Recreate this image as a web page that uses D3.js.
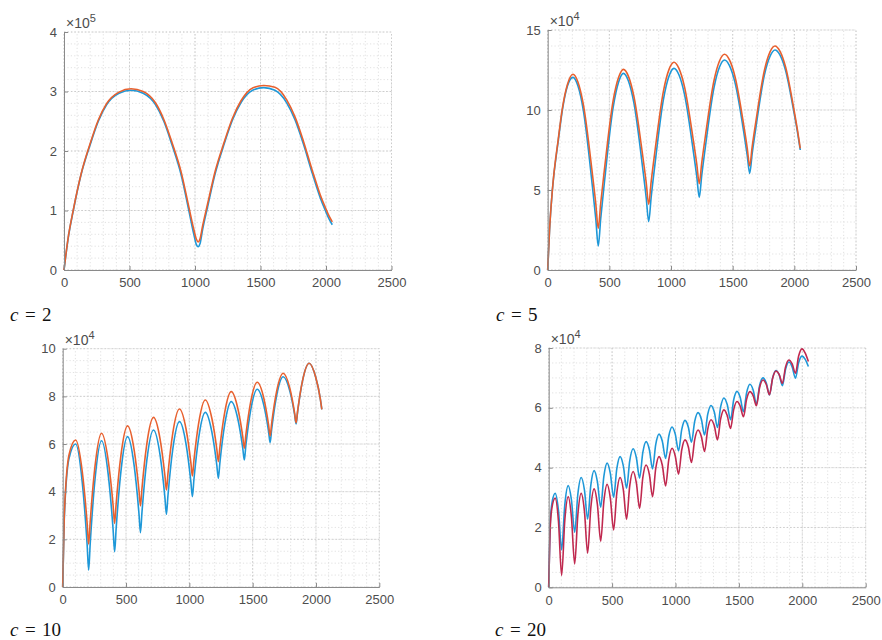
<!DOCTYPE html>
<html>
<head>
<meta charset="utf-8">
<script src="https://cdn.jsdelivr.net/npm/d3@7"></script>
<style>
  html, body { margin: 0; padding: 0; background: #ffffff; }
  svg { display: block; }
  .tick text { font-family: "Liberation Sans", Arial, sans-serif; font-size: 13px; fill: #4d4d4d; }
</style>
</head>
<body>
<svg id="chart" width="882" height="640"></svg>
<script>
// ---- sample positions and series values (y in units of the panel's exponent) ----
const xTicks = [0, 500, 1000, 1500, 2000, 2500];

// c = 2  (x 10^5)
const c2X = [0, 33, 71, 130, 199, 262, 326, 420, 512, 604, 698, 762, 825, 894, 953, 991, 1010, 1024, 1038, 1058, 1095, 1154, 1223, 1286, 1350, 1440, 1525, 1610, 1700, 1764, 1827, 1896, 1955, 1995, 2025, 2048];
const c2Blue = [0, 0.55, 1.0, 1.6, 2.1, 2.5, 2.78, 2.97, 3.02, 2.97, 2.78, 2.5, 2.1, 1.6, 1.0, 0.6, 0.43, 0.39, 0.44, 0.68, 1.05, 1.62, 2.12, 2.52, 2.81, 3.02, 3.065, 3.02, 2.81, 2.52, 2.12, 1.62, 1.22, 1.0, 0.85, 0.76];
const c2Orange = [0, 0.56, 1.01, 1.61, 2.12, 2.52, 2.8, 2.99, 3.045, 3.0, 2.81, 2.53, 2.14, 1.65, 1.06, 0.68, 0.52, 0.47, 0.52, 0.74, 1.1, 1.66, 2.15, 2.55, 2.84, 3.06, 3.10, 3.07, 2.86, 2.57, 2.17, 1.67, 1.27, 1.05, 0.9, 0.81];
const c2YTicks = [0, 1, 2, 3, 4];

// c = 5  (x 10^4)
const c5X = [0, 15, 38, 86, 119, 160, 205, 245, 290, 360, 390, 410, 430, 460, 530, 575, 614, 654, 699, 769, 799, 819, 839, 869, 939, 984, 1024, 1064, 1109, 1179, 1209, 1229, 1249, 1279, 1349, 1394, 1434, 1474, 1519, 1589, 1618, 1638, 1658, 1688, 1758, 1803, 1843, 1883, 1928, 1998, 2028, 2048];
const c5Blue = [0, 2.5, 5, 8.1, 10, 11.5, 12.04, 11.51, 9.93, 5.4, 3.19, 1.5, 3.23, 5.49, 10.13, 11.75, 12.29, 11.83, 10.44, 6.45, 4.50, 3.02, 4.55, 6.56, 10.68, 12.12, 12.6, 12.2, 10.99, 7.52, 5.83, 4.54, 5.91, 7.72, 11.41, 12.70, 13.125, 12.77, 11.71, 8.66, 7.17, 6.04, 7.27, 8.89, 12.21, 13.36, 13.75, 13.44, 12.5, 9.81, 8.5, 7.5];
const c5Orange = [0, 2.5, 5, 8.2, 10.1, 11.6, 12.23, 11.75, 10.30, 6.16, 4.14, 2.6, 4.19, 6.28, 10.55, 12.04, 12.54, 12.12, 10.85, 7.22, 5.45, 4.1, 5.52, 7.39, 11.20, 12.54, 12.98, 12.6, 11.46, 8.2, 6.61, 5.4, 6.69, 8.39, 11.86, 13.08, 13.48, 13.13, 12.08, 9.08, 7.62, 6.5, 7.7, 9.28, 12.5, 13.63, 14.0, 13.68, 12.72, 9.97, 8.62, 7.6];
const c5YTicks = [0, 5, 10, 15];

// c = 10  (x 10^4)
const c10X = [0, 12, 50, 102, 154, 193, 205, 217, 255, 307, 359, 398, 410, 422, 460, 512, 564, 602, 614, 626, 664, 717, 769, 807, 819, 831, 869, 922, 974, 1012, 1024, 1036, 1074, 1126, 1178, 1217, 1229, 1241, 1279, 1331, 1383, 1422, 1434, 1446, 1484, 1536, 1588, 1626, 1638, 1650, 1688, 1741, 1793, 1831, 1843, 1855, 1893, 1946, 1998, 2034, 2046];
const c10Blue = [0, 2.8, 5.4, 6.0, 4.41, 1.77, 0.71, 1.80, 4.51, 6.14, 4.74, 2.41, 1.48, 2.45, 4.86, 6.31, 5.10, 3.09, 2.28, 3.14, 5.30, 6.59, 5.53, 3.76, 3.05, 3.83, 5.77, 6.94, 6.00, 4.42, 3.79, 4.50, 6.27, 7.33, 6.50, 5.11, 4.56, 5.20, 6.81, 7.78, 7.05, 5.82, 5.33, 5.92, 7.41, 8.30, 7.63, 6.51, 6.06, 6.61, 7.99, 8.82, 8.23, 7.24, 6.84, 7.35, 8.63, 9.39, 8.8, 7.9, 7.45];
const c10Orange = [0, 2.9, 5.55, 6.17, 4.86, 2.67, 1.8, 2.73, 5.06, 6.45, 5.32, 3.43, 2.67, 3.49, 5.53, 6.76, 5.75, 4.07, 3.4, 4.14, 6.00, 7.12, 6.21, 4.68, 4.07, 4.75, 6.45, 7.47, 6.63, 5.22, 4.66, 5.30, 6.89, 7.85, 7.07, 5.78, 5.26, 5.85, 7.32, 8.2, 7.49, 6.30, 5.82, 6.37, 7.76, 8.59, 7.92, 6.79, 6.34, 6.87, 8.18, 8.97, 8.35, 7.31, 6.89, 7.39, 8.64, 9.39, 8.8, 7.9, 7.45];
const c10YTicks = [0, 2, 4, 6, 8, 10];

// c = 20  (x 10^4)
const c20X = [0, 10, 25, 51, 77, 102, 127, 154, 179, 205, 230, 256, 282, 307, 332, 358, 384, 410, 435, 461, 486, 512, 537, 563, 589, 614, 639, 666, 691, 717, 742, 768, 794, 819, 844, 870, 896, 922, 947, 973, 998, 1024, 1049, 1075, 1101, 1126, 1151, 1178, 1204, 1229, 1254, 1280, 1306, 1331, 1356, 1382, 1408, 1434, 1459, 1485, 1510, 1536, 1561, 1587, 1613, 1638, 1663, 1690, 1716, 1741, 1766, 1792, 1818, 1843, 1868, 1894, 1920, 1946, 1971, 1997, 2022, 2048];
const c20Blue = [0, 1.9, 2.8, 3.14, 2.57, 1.25, 2.76, 3.40, 2.93, 1.84, 3.12, 3.67, 3.25, 2.28, 3.41, 3.90, 3.53, 2.68, 3.71, 4.15, 3.81, 3.01, 3.96, 4.37, 4.05, 3.31, 4.23, 4.63, 4.34, 3.65, 4.50, 4.87, 4.60, 3.96, 4.77, 5.12, 4.88, 4.31, 5.05, 5.36, 5.12, 4.56, 5.27, 5.58, 5.36, 4.85, 5.54, 5.84, 5.62, 5.09, 5.78, 6.08, 5.86, 5.34, 6.03, 6.33, 6.11, 5.60, 6.27, 6.55, 6.35, 5.87, 6.51, 6.79, 6.59, 6.12, 6.74, 7.00, 6.83, 6.43, 7.00, 7.25, 7.10, 6.74, 7.29, 7.53, 7.37, 6.99, 7.51, 7.73, 7.63, 7.38];
const c20Red = [0, 1.8, 2.65, 2.98, 2.21, 0.4, 2.24, 3.03, 2.36, 0.78, 2.43, 3.14, 2.54, 1.14, 2.65, 3.29, 2.77, 1.54, 2.87, 3.44, 2.98, 1.92, 3.15, 3.67, 3.25, 2.27, 3.39, 3.87, 3.50, 2.64, 3.66, 4.09, 3.77, 3.03, 3.97, 4.37, 4.08, 3.39, 4.27, 4.65, 4.39, 3.78, 4.59, 4.93, 4.70, 4.17, 4.93, 5.26, 5.04, 4.54, 5.28, 5.60, 5.40, 4.93, 5.63, 5.93, 5.74, 5.31, 5.94, 6.21, 6.06, 5.70, 6.29, 6.54, 6.40, 6.07, 6.67, 6.93, 6.78, 6.44, 6.99, 7.23, 7.11, 6.82, 7.37, 7.60, 7.47, 7.16, 7.73, 7.97, 7.84, 7.55];
const c20YTicks = [0, 2, 4, 6, 8];

const BLUE = "#1e98d8";
const ORANGE = "#e8602e";
const CRIMSON = "#c0294f";

// ---- panel layout ----
const panels = [
  { label: "2",  exp: "5", box: { l: 64,    r: 391.5, t: 32,    b: 270 },   yMax: 4,  yTicks: c2YTicks,  yMinor: 0.2,
    x: c2X,  series: [{ v: c2Blue, color: BLUE }, { v: c2Orange, color: ORANGE }], labelPos: [10, 321] },
  { label: "5",  exp: "4", box: { l: 547.7, r: 856,   t: 30,    b: 270 },   yMax: 15, yTicks: c5YTicks,  yMinor: 1,
    x: c5X,  series: [{ v: c5Blue, color: BLUE }, { v: c5Orange, color: ORANGE }], labelPos: [496, 321] },
  { label: "10", exp: "4", box: { l: 62.7,  r: 379.3, t: 348.7, b: 587 },   yMax: 10, yTicks: c10YTicks, yMinor: 0.5,
    x: c10X, series: [{ v: c10Blue, color: BLUE }, { v: c10Orange, color: ORANGE }], labelPos: [10, 636] },
  { label: "20", exp: "4", box: { l: 548.7, r: 865.7, t: 348,   b: 587.3 }, yMax: 8,  yTicks: c20YTicks, yMinor: 0.5,
    x: c20X, series: [{ v: c20Blue, color: BLUE }, { v: c20Red, color: CRIMSON }], labelPos: [495, 636] }
];

const svg = d3.select("#chart");

panels.forEach(p => {
  const x = d3.scaleLinear().domain([0, 2500]).range([p.box.l, p.box.r]);
  const y = d3.scaleLinear().domain([0, p.yMax]).range([p.box.b, p.box.t]);
  const g = svg.append("g");

  // minor grid
  const grid = g.append("g").attr("fill", "none");
  d3.range(0, 2500.001, 100).forEach(v => {
    grid.append("line").attr("x1", x(v)).attr("x2", x(v)).attr("y1", y(0)).attr("y2", y(p.yMax))
      .attr("stroke", "#d9d9d9").attr("stroke-width", 0.8).attr("stroke-dasharray", "1.2,2.2");
  });
  d3.range(0, p.yMax + 1e-6, p.yMinor).forEach(v => {
    grid.append("line").attr("x1", x(0)).attr("x2", x(2500)).attr("y1", y(v)).attr("y2", y(v))
      .attr("stroke", "#d9d9d9").attr("stroke-width", 0.8).attr("stroke-dasharray", "1.2,2.2");
  });
  // major grid
  xTicks.forEach(v => {
    grid.append("line").attr("x1", x(v)).attr("x2", x(v)).attr("y1", y(0)).attr("y2", y(p.yMax))
      .attr("stroke", "#c8c8c8").attr("stroke-width", 0.9).attr("stroke-dasharray", "1.5,2");
  });
  p.yTicks.forEach(v => {
    grid.append("line").attr("x1", x(0)).attr("x2", x(2500)).attr("y1", y(v)).attr("y2", y(v))
      .attr("stroke", "#c8c8c8").attr("stroke-width", 0.9).attr("stroke-dasharray", "1.5,2");
  });

  // series
  const line = d3.line().curve(d3.curveMonotoneX);
  p.series.forEach(s => {
    const pts = p.x.map((xv, i) => [x(xv), y(s.v[i])]);
    g.append("path").attr("d", line(pts)).attr("fill", "none")
      .attr("stroke", s.color).attr("stroke-width", 1.6).attr("stroke-linejoin", "round");
  });

  // axes with inward ticks
  const ax = g.append("g").attr("transform", `translate(0,${p.box.b})`)
    .call(d3.axisBottom(x).tickValues(xTicks).tickFormat(d3.format("d")).tickSizeInner(-4).tickSizeOuter(0).tickPadding(8));
  const ay = g.append("g").attr("transform", `translate(${p.box.l},0)`)
    .call(d3.axisLeft(y).tickValues(p.yTicks).tickFormat(d3.format("d")).tickSizeInner(-4).tickSizeOuter(0).tickPadding(7));
  [ax, ay].forEach(a => {
    a.select(".domain").attr("stroke", "#8a8a8a").attr("stroke-width", 1);
    a.selectAll(".tick line").attr("stroke", "#8a8a8a");
  });

  // exponent label
  const e = g.append("text").attr("x", p.box.l + 2).attr("y", p.box.t - 4)
    .attr("font-family", "'Liberation Sans', Arial, sans-serif").attr("font-size", 14).attr("fill", "#4d4d4d");
  e.append("tspan").text("\u00d710");
  e.append("tspan").attr("dy", -6).attr("font-size", 11).text(p.exp);

  // panel caption: italic c, equals sign, value
  const font = "'Liberation Serif', 'Times New Roman', serif";
  const [cx, cy] = p.labelPos;
  const cap = svg.append("g").attr("font-family", font).attr("font-size", 19).attr("fill", "#111");
  cap.append("text").attr("x", cx).attr("y", cy).attr("font-style", "italic").text("c");
  cap.append("text").attr("x", cx + 15).attr("y", cy).text("=");
  cap.append("text").attr("x", cx + 32).attr("y", cy).text(p.label);
});
</script>
</body>
</html>
